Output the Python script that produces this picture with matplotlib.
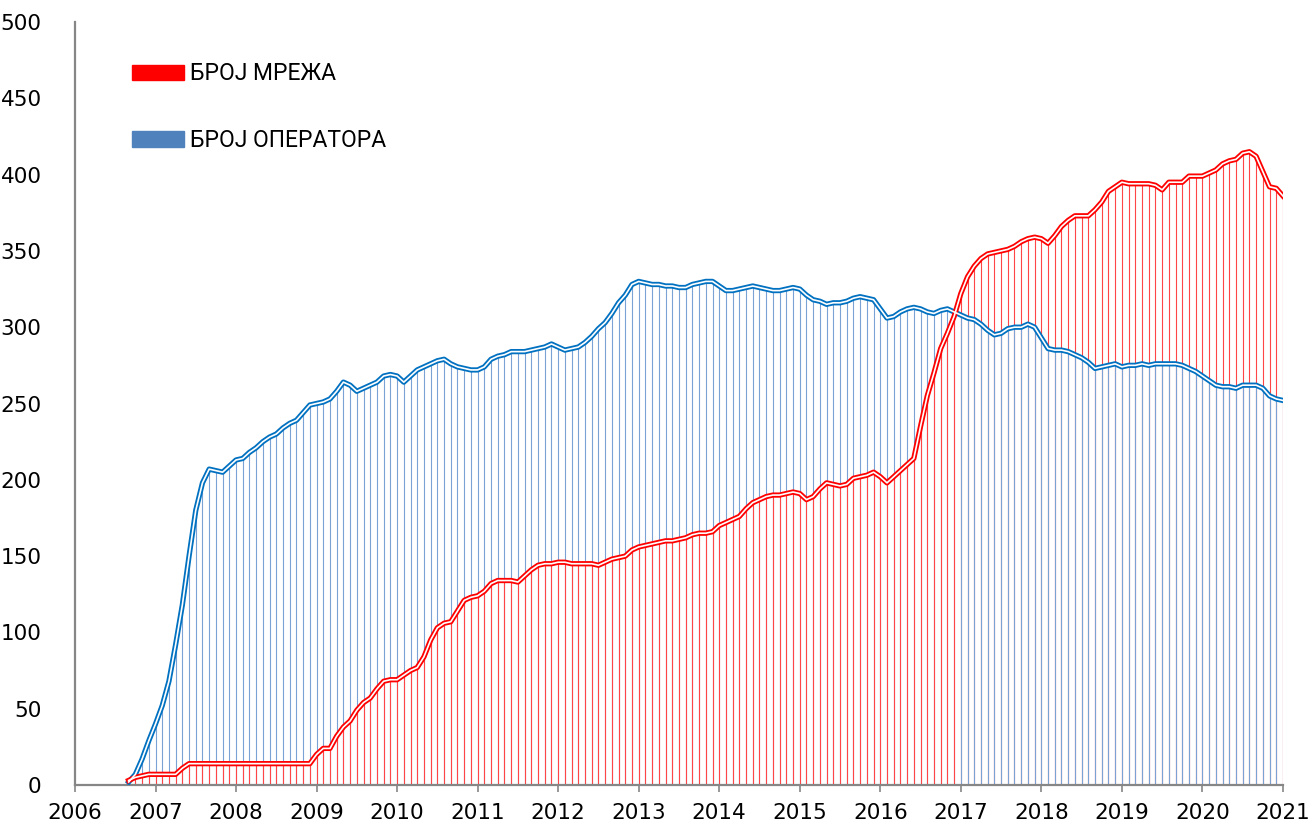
"""Број мрежа и број оператора по месецима."""

import numpy as np
import pandas as pd
import matplotlib.pyplot as plt
from matplotlib.patches import Patch

# monthly data, Sep 2006 .. Jan 2021
months = pd.date_range("2006-09-01", "2021-01-01", freq="MS")

networks = [
    3, 5, 6, 7,
    7, 7, 7, 7, 11, 14, 14, 14, 14, 14, 14, 14,
    14, 14, 14, 14, 14, 14, 14, 14, 14, 14, 14, 14,
    20, 24, 24, 32, 38, 42, 49, 54, 57, 63, 68, 69,
    69, 72, 75, 77, 84, 95, 103, 106, 107, 114, 121, 123,
    124, 127, 132, 134, 134, 134, 133, 137, 141, 144, 145, 145,
    146, 146, 145, 145, 145, 145, 144, 146, 148, 149, 150, 154,
    156, 157, 158, 159, 160, 160, 161, 162, 164, 165, 165, 166,
    170, 172, 174, 176, 181, 185, 187, 189, 190, 190, 191, 192,
    191, 187, 189, 194, 198, 197, 196, 197, 201, 202, 203, 205,
    202, 198, 202, 206, 210, 214, 235, 255, 270, 286, 296, 307,
    322, 333, 340, 345, 348, 349, 350, 351, 353, 356, 358, 359,
    358, 355, 360, 366, 370, 373, 373, 373, 377, 382, 389, 392,
    395, 394, 394, 394, 394, 393, 390, 395, 395, 395, 399, 399,
    399, 401, 403, 407, 409, 410, 414, 415, 412, 402, 392, 391,
    386,
]

operators = [
    2, 7, 17, 29,
    40, 52, 68, 92, 118, 150, 180, 198, 207, 206, 205, 209,
    213, 214, 218, 221, 225, 228, 230, 234, 237, 239, 244, 249,
    250, 251, 253, 258, 264, 262, 258, 260, 262, 264, 268, 269,
    268, 264, 268, 272, 274, 276, 278, 279, 276, 274, 273, 272,
    272, 274, 279, 281, 282, 284, 284, 284, 285, 286, 287, 289,
    287, 285, 286, 287, 290, 294, 299, 303, 309, 316, 321, 328,
    330, 329, 328, 328, 327, 327, 326, 326, 328, 329, 330, 330,
    327, 324, 324, 325, 326, 327, 326, 325, 324, 324, 325, 326,
    325, 321, 318, 317, 315, 316, 316, 317, 319, 320, 319, 318,
    312, 306, 307, 310, 312, 313, 312, 310, 309, 311, 312, 310,
    308, 306, 305, 302, 298, 295, 296, 299, 300, 300, 302, 300,
    293, 286, 285, 285, 284, 282, 280, 277, 273, 274, 275, 276,
    274, 275, 275, 276, 275, 276, 276, 276, 276, 275, 273, 271,
    268, 265, 262, 261, 261, 260, 262, 262, 262, 260, 255, 253,
    252,
]

labels = ["БРОЈ МРЕЖА", "БРОЈ ОПЕРАТОРА"]
years = list(range(2006, 2022))

RED = "#FF0000"
RED_DROP = "#FF4545"
BLUE = "#0070C0"
BLUE_DROP = "#7AA2D4"
AXIS_GREY = "#868686"

x = months.year + (months.month - 1) / 12
net = np.array(networks)
ops = np.array(operators)

fig = plt.figure(figsize=(13.13, 8.3), dpi=100)
ax = fig.add_axes([0.0571, 0.0542, 0.9200, 0.9193])

# drop lines: the longer one first, the shorter one on top
red_high = net >= ops
ax.vlines(x[red_high], 0, net[red_high], color=RED_DROP, lw=0.8, zorder=1)
ax.vlines(x[~red_high], 0, ops[~red_high], color=BLUE_DROP, lw=0.8, zorder=1)
ax.vlines(x[red_high], 0, ops[red_high], color=BLUE_DROP, lw=0.8, zorder=2)
ax.vlines(x[~red_high], 0, net[~red_high], color=RED_DROP, lw=0.8, zorder=2)

# double lines (coloured outline, white core)
for vals, col in [(ops, BLUE), (net, RED)]:
    ax.plot(x, vals, color=col, lw=3.8, solid_joinstyle="round", zorder=3)
    ax.plot(x, vals, color="white", lw=1.2, solid_joinstyle="round", zorder=4)

ax.set_xlim(2006, 2021)
ax.set_ylim(0, 500)
ax.set_xticks(years)
ax.set_yticks(range(0, 501, 50))

for side in ["top", "right"]:
    ax.spines[side].set_visible(False)
for side in ["left", "bottom"]:
    ax.spines[side].set_color(AXIS_GREY)
    ax.spines[side].set_linewidth(1.6)

ax.tick_params(axis="x", length=5, width=1.2, color=AXIS_GREY, labelsize=15.5, pad=8)
ax.tick_params(axis="y", length=0, labelsize=15.5, pad=24)

handles = [Patch(color=RED), Patch(color="#4F81BD")]
ax.legend(handles, labels, loc="upper left", bbox_to_anchor=(0.047, 0.947),
          frameon=False, handlelength=2.3, handleheight=0.65,
          handletextpad=0.25, labelspacing=1.9, borderpad=0, borderaxespad=0,
          prop={"family": ["Roboto", "DejaVu Sans"], "size": 16.5})

fig.savefig("out.png", dpi=100)
